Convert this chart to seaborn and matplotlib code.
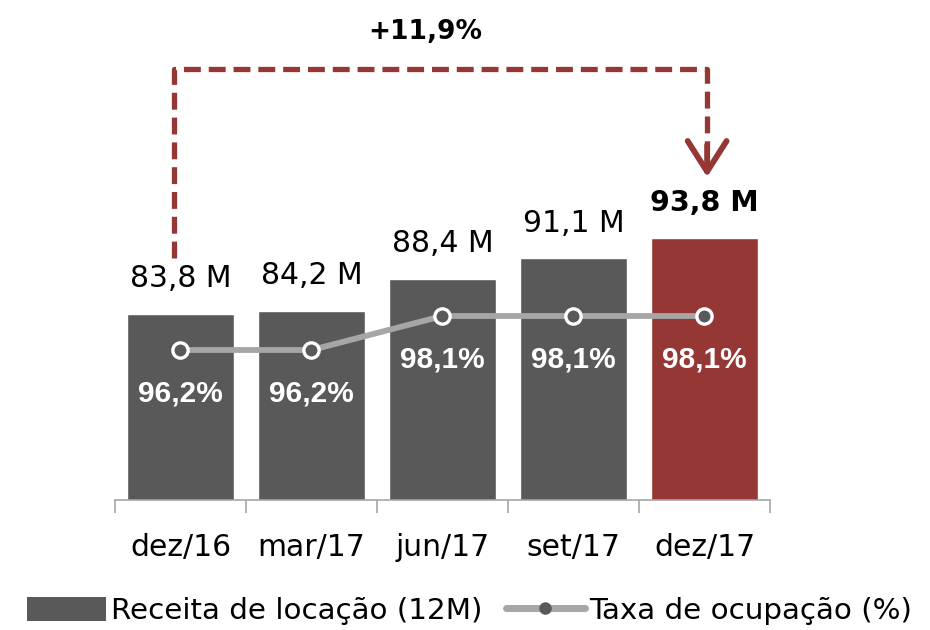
import matplotlib
matplotlib.use("Agg")
import matplotlib.pyplot as plt
import matplotlib.transforms as mtransforms
from matplotlib.patches import Patch
from matplotlib.lines import Line2D
import seaborn as sns
import pandas as pd

# ---- data ----
periods = ["dez/16", "mar/17", "jun/17", "set/17", "dez/17"]
receita = [83.8, 84.2, 88.4, 91.1, 93.8]
ocupacao = [96.2, 96.2, 98.1, 98.1, 98.1]
receita_labels = ["83,8 M", "84,2 M", "88,4 M", "91,1 M", "93,8 M"]
ocupacao_labels = ["96,2%", "96,2%", "98,1%", "98,1%", "98,1%"]
growth_label = "+11,9%"
legend_labels = ["Receita de locação (12M)", "Taxa de ocupação (%)"]

GRAY = "#595959"
RED = "#953735"
LINE = "#A6A6A6"
bar_colors = [GRAY, GRAY, GRAY, GRAY, RED]

sns.set_theme(style="white")
plt.rcParams["font.family"] = ["DejaVu Sans"]
plt.rcParams["text.color"] = "black"
plt.rcParams["xtick.color"] = "black"

df = pd.DataFrame({"period": periods, "receita": receita, "ocupacao": ocupacao})

fig = plt.figure(figsize=(9.3, 6.3), dpi=100)
ax = fig.add_axes([115 / 930, 130 / 630, 655 / 930, 500 / 630])

sns.barplot(data=df, x="period", y="receita", hue="period", palette=bar_colors,
            order=periods, hue_order=periods, width=0.82, legend=False,
            ax=ax, saturation=1)
ybot = 59.3
ax.set_ylim(ybot, ybot + 500 / 7.6)

ax2 = ax.twinx()
sns.pointplot(data=df, x="period", y="ocupacao", order=periods, color=LINE,
              ax=ax2, linewidth=4.2, markersize=11, markerfacecolor=GRAY,
              markeredgecolor="white", markeredgewidth=2.4, marker="o")
obot = 96.2 - 150 / 17.9
ax2.set_ylim(obot, obot + 500 / 17.9)
ax2.set_xlim(-0.5, 4.5)
ax2.axis("off")

# value labels above bars
for i, (v, lab) in enumerate(zip(receita, receita_labels)):
    last = i == len(receita) - 1
    ax.annotate(lab, xy=(i, v), xytext=(0, 19), textcoords="offset points",
                ha="center", va="baseline", fontsize=20.5 if last else 21.5,
                color="black", fontweight="bold" if last else "normal",
                annotation_clip=False)

# occupancy labels inside bars
for i, (v, lab) in enumerate(zip(ocupacao, ocupacao_labels)):
    ax2.annotate(lab, xy=(i, v), xytext=(0, -31), textcoords="offset points",
                 ha="center", va="center", fontsize=21.5, color="white",
                 fontweight="bold", family=["Liberation Sans", "DejaVu Sans"])

# axes styling
for s in ["top", "right", "left"]:
    ax.spines[s].set_visible(False)
ax.spines["bottom"].set_color("#A6A6A6")
ax.spines["bottom"].set_linewidth(1.2)
ax.set_yticks([])
ax.set_xlabel("")
ax.set_ylabel("")
ax.set_xlim(-0.5, 4.5)
ax.set_xticks(range(len(periods)))
ax.set_xticklabels(periods, fontsize=21.5)
ax.set_xticks([i - 0.5 for i in range(len(periods) + 1)], minor=True)
ax.tick_params(axis="x", which="major", length=0, pad=24, colors="black")
ax.tick_params(axis="x", which="minor", length=9, width=1.2, color="#A6A6A6",
               direction="out", bottom=True)

# dashed growth arrow
trans = mtransforms.blended_transform_factory(ax.transData, ax.transAxes)
ax.plot([-0.05, -0.05, 4.02, 4.02], [0.484, 0.862, 0.862, 0.70],
        transform=trans, color=RED, lw=3.8, ls=(0, (3.2, 1.5)),
        clip_on=False, solid_joinstyle="miter")
ax.annotate("", xy=(4.02, 0.646), xycoords=trans, xytext=(4.02, 0.71),
            textcoords=trans,
            arrowprops=dict(arrowstyle="->,head_length=1.1,head_width=0.7",
                            color=RED, lw=4.2, mutation_scale=20,
                            shrinkA=0, shrinkB=0),
            annotation_clip=False)
fig.text(425 / 930, 1 - 32 / 630, growth_label, ha="center", va="center",
         fontsize=19, fontweight="bold", color="black")

# legend
handles = [Patch(facecolor=GRAY, edgecolor="none"),
           Line2D([], [], color=LINE, lw=5, marker="o", markersize=8,
                  markerfacecolor=GRAY, markeredgecolor=GRAY)]
leg = fig.legend(handles, legend_labels, loc="center",
                 bbox_to_anchor=(0.505, 0.03), ncol=2, frameon=False,
                 fontsize=21.2, handlelength=2.7, handleheight=0.85,
                 handletextpad=0.15, columnspacing=0.8,
                 borderaxespad=0, borderpad=0)
for t in leg.get_texts():
    t.set_color("black")

fig.savefig("out.png", dpi=100)
